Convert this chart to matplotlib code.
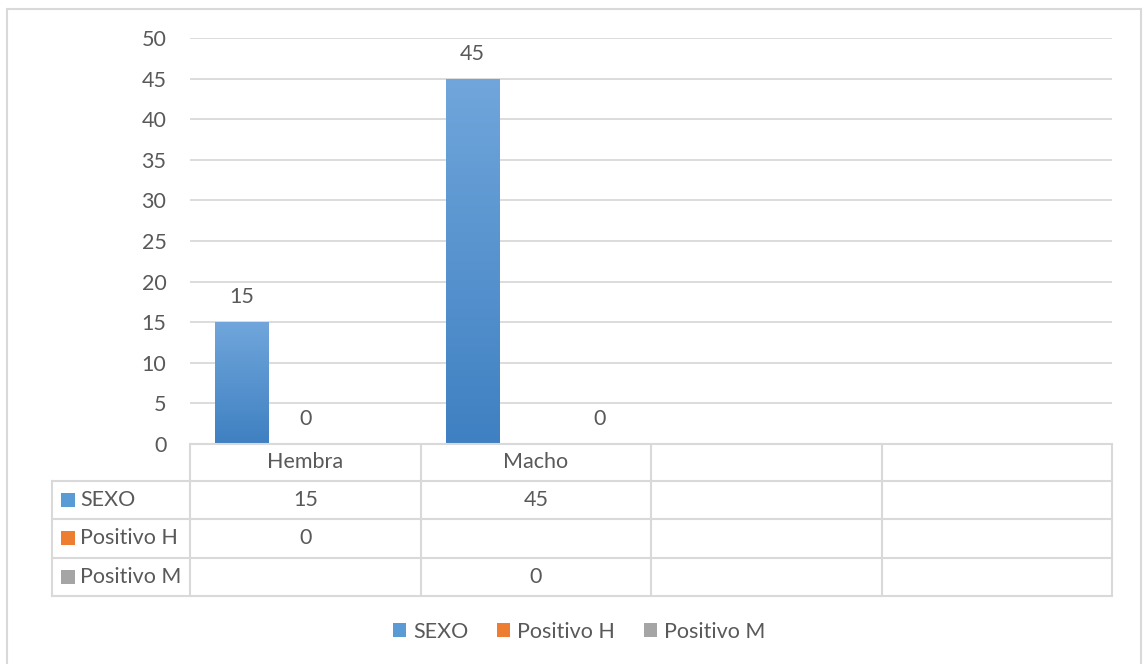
import numpy as np
import matplotlib
matplotlib.use("Agg")
import matplotlib.pyplot as plt
from matplotlib.patches import Rectangle, Patch
from matplotlib.lines import Line2D
from matplotlib.colors import LinearSegmentedColormap
import matplotlib.patheffects as pe

categories = ["Hembra", "Macho", "", ""]
series_names = ["SEXO", "Positivo H", "Positivo M"]
sexo = [15, 45, None, None]
positivo_h = [0, None, None, None]
positivo_m = [None, 0, None, None]
y_ticks = [0, 5, 10, 15, 20, 25, 30, 35, 40, 45, 50]

series_values = [sexo, positivo_h, positivo_m]
colors = ["#5b9bd5", "#ed7d31", "#a5a5a5"]
grads = [("#3f80c2", "#70a6db"), ("#d9661c", "#f39358"), ("#939393", "#b5b5b5")]
TXT = "#595959"
GRID = "#d9d9d9"
FONT = "Lato"
FS = 15.5

W, H = 1144, 664
fig = plt.figure(figsize=(W / 100, H / 100), dpi=100)
fig.patch.set_facecolor("white")

def fx(x):
    return x / W

def fy(y):
    return 1 - y / H

# outer frame
fig.add_artist(Rectangle((fx(7), fy(700)), fx(1141) - fx(7), fy(9) - fy(700),
                         transform=fig.transFigure, fill=False, edgecolor="#d9d9d9", lw=1.5))

L, R, T, B = 190, 1112, 38, 444
ax = fig.add_axes([fx(L), fy(B), (R - L) / W, (B - T) / H])
ncat = len(categories)
x = np.arange(ncat)
bw = 0.23
step = 0.2755
offsets = [-step, 0, step]

for si, vals in enumerate(series_values):
    cmap = LinearSegmentedColormap.from_list("g", [grads[si][0], grads[si][1]])
    for ci, v in enumerate(vals):
        if v is None:
            continue
        xc = x[ci] + offsets[si]
        bars = ax.bar(xc, v, width=bw, color=colors[si], zorder=3, linewidth=0)
        rect = bars[0]
        if v > 0:
            rect.set_path_effects([pe.SimplePatchShadow(offset=(0.8, -0.8), shadow_rgbFace="#000000", alpha=0.18), pe.Normal()])
            grad = np.linspace(0, 1, 256).reshape(-1, 1)
            im = ax.imshow(grad, extent=[xc - bw / 2, xc + bw / 2, 0, v], origin="lower",
                           cmap=cmap, aspect="auto", zorder=4)
            im.set_clip_path(rect)
        ax.annotate(f"{v:g}", (xc, v), xytext=(0, 18), textcoords="offset points",
                    ha="center", va="center", fontsize=FS, color=TXT, family=FONT, zorder=5)

ax.set_xlim(-0.5, ncat - 0.5)
ax.set_ylim(0, 50)
ax.set_aspect("auto")
ax.set_yticks(y_ticks)
ax.set_yticklabels([str(t) for t in y_ticks], fontsize=FS, color=TXT, family=FONT)
ax.tick_params(axis="y", length=0, pad=17)
ax.set_xticks([])
for s in ax.spines.values():
    s.set_visible(False)
ax.grid(axis="y", color=GRID, lw=1.3, zorder=0)
ax.set_axisbelow(True)

# data table
col_x = [190, 420.5, 651, 881.5, 1112]
row_y = [444, 481, 519, 557.5, 596]
lc = "#d9d9d9"
lw = 1.5

def hline(y, x0, x1):
    fig.add_artist(Line2D([fx(x0), fx(x1)], [fy(y), fy(y)], transform=fig.transFigure, color=lc, lw=lw))

def vline(xp, y0, y1):
    fig.add_artist(Line2D([fx(xp), fx(xp)], [fy(y0), fy(y1)], transform=fig.transFigure, color=lc, lw=lw))

hline(row_y[0], col_x[0], col_x[-1])
for yy in row_y[1:]:
    hline(yy, 52, col_x[-1])
vline(52, row_y[1], row_y[-1])
for xx in col_x:
    vline(xx, row_y[0], row_y[-1])

for ci, cat in enumerate(categories):
    cx = (col_x[ci] + col_x[ci + 1]) / 2
    fig.text(fx(cx), fy((row_y[0] + row_y[1]) / 2), cat, ha="center", va="center",
             fontsize=FS, color=TXT, family=FONT)

for si, (name, vals) in enumerate(zip(series_names, series_values)):
    ymid = (row_y[si + 1] + row_y[si + 2]) / 2
    fig.add_artist(Rectangle((fx(61), fy(ymid + 7)), fx(75) - fx(61), fy(ymid - 7) - fy(ymid + 7),
                             transform=fig.transFigure, facecolor=colors[si], edgecolor="none"))
    fig.text(fx(80), fy(ymid), name, ha="left", va="center", fontsize=FS, color=TXT, family=FONT)
    for ci, v in enumerate(vals):
        if v is None:
            continue
        cx = (col_x[ci] + col_x[ci + 1]) / 2
        fig.text(fx(cx), fy(ymid), f"{v:g}", ha="center", va="center",
                 fontsize=FS, color=TXT, family=FONT)

# legend
handles = [Patch(facecolor=c, edgecolor="none", label=n) for c, n in zip(colors, series_names)]
fig.legend(handles=handles, loc="center", bbox_to_anchor=(fx(579), fy(632)), ncol=3, frameon=False,
           handlelength=0.62, handleheight=0.62, handletextpad=0.3, columnspacing=1.35,
           prop={"family": FONT, "size": FS}, labelcolor=TXT)

fig.savefig("out.png", dpi=100, facecolor="white")
